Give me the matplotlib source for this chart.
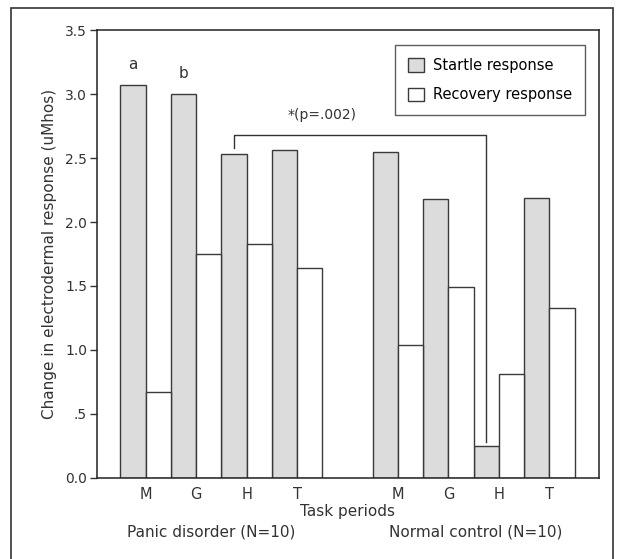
import matplotlib.pyplot as plt
from matplotlib.patches import Rectangle
import numpy as np

# task periods, two groups
periods = ['M', 'G', 'H', 'T']
groups = ['Panic disorder (N=10)', 'Normal control (N=10)']

startle_panic = [3.07, 3.00, 2.53, 2.56]
recovery_panic = [0.67, 1.75, 1.83, 1.64]
startle_normal = [2.55, 2.18, 0.25, 2.19]
recovery_normal = [1.04, 1.49, 0.81, 1.33]

yticks = [0, 0.5, 1.0, 1.5, 2.0, 2.5, 3.0, 3.5]
yticklabels = ['0.0', '.5', '1.0', '1.5', '2.0', '2.5', '3.0', '3.5']

grey = '#dcdcdc'
edge = '#3a3a3a'

plt.rcParams['font.family'] = ['DejaVu Sans']

fig = plt.figure(figsize=(6.18, 5.59), dpi=100)
ax = fig.add_axes([0.1565, 0.1454, 0.8125, 0.8004])

# outer frame round the whole figure
fig.patches.append(Rectangle((11 / 618, -0.01), 602 / 618, 1 - 8 / 559 + 0.01,
                             transform=fig.transFigure, fill=False,
                             edgecolor='#333333', linewidth=1.2))

# pair positions: group 1 at 0..3, group 2 at 5..8
pos = np.r_[np.arange(4), np.arange(4) + 5]
startle = startle_panic + startle_normal
recovery = recovery_panic + recovery_normal
w = 0.5

ax.bar(pos, startle, width=w, align='edge', color=grey, edgecolor=edge,
       linewidth=1.0, label='Startle response')
ax.bar(pos + w, recovery, width=w, align='edge', color='white', edgecolor=edge,
       linewidth=1.0, label='Recovery response')

ax.set_xlim(-0.47, 9.48)
ax.set_ylim(0, 3.5)
ax.set_yticks(yticks)
ax.set_yticklabels(yticklabels, fontsize=10, color='#333333')
ax.set_xticks(pos + 0.5)
ax.set_xticklabels(periods * 2, fontsize=10.5, color='#333333')
ax.tick_params(axis='x', length=0, pad=7)
ax.tick_params(axis='y', length=5, width=1, color='#333333', pad=2)
for s in ax.spines.values():
    s.set_linewidth(1.1)
    s.set_color('#222222')

ax.set_ylabel('Change in electrodermal response (uMhos)', fontsize=11,
              color='#333333', labelpad=6)
ax.set_xlabel('Task periods', fontsize=11, color='#333333', labelpad=1)

fig.text(211 / 618, 1 - 532 / 559, groups[0], ha='center', va='center',
         fontsize=11, color='#333333')
fig.text(476 / 618, 1 - 532 / 559, groups[1], ha='center', va='center',
         fontsize=11, color='#333333')

# letters above first bars
ax.text(0.25, 3.23, 'a', ha='center', va='center', fontsize=11, color='#333333')
ax.text(1.25, 3.16, 'b', ha='center', va='center', fontsize=11, color='#333333')

# significance bracket between H startle bars
x1, x2 = pos[2] + 0.25, pos[6] + 0.25
ax.plot([x1, x1, x2, x2], [startle[2] + 0.05, 2.68, 2.68, startle[6] + 0.03],
        color='#333333', linewidth=1.0)
ax.text(4.0, 2.84, '*(p=.002)', ha='center', va='center', fontsize=10,
        color='#333333')

leg = ax.legend(loc='upper right', bbox_to_anchor=(0.972, 0.968), fontsize=10.5,
                frameon=True, fancybox=False, edgecolor='#333333',
                borderaxespad=0, borderpad=0.9, labelspacing=1.0,
                handlelength=1.05, handleheight=1.05, handletextpad=0.6)
leg.get_frame().set_linewidth(1.0)

fig.savefig('out.png', dpi=100)
